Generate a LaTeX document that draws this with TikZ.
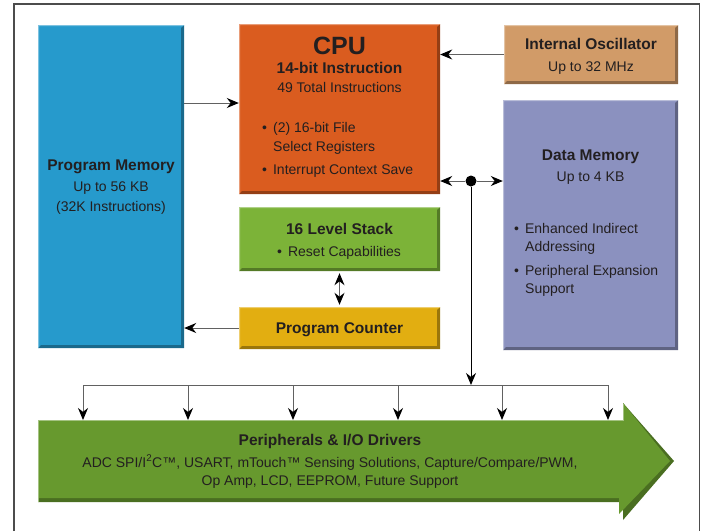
\documentclass[tikz,border=0pt]{standalone}
\usepackage{fontspec}
\setmainfont{Liberation Sans}
\usetikzlibrary{arrows.meta}

\definecolor{progblue}{RGB}{38,154,204}
\definecolor{cpuorange}{RGB}{218,92,31}
\definecolor{osctan}{RGB}{209,155,104}
\definecolor{datalav}{RGB}{139,145,191}
\definecolor{stackgreen}{RGB}{124,179,56}
\definecolor{pcgold}{RGB}{226,174,17}
\definecolor{perigreen}{RGB}{103,153,46}
\definecolor{inkgray}{RGB}{35,31,32}

\begin{document}
\begin{tikzpicture}[
    x=1pt, y=-1pt,
    box node/.style={rectangle, inner sep=0pt, fill=#1, path picture={
        \fill[#1!68!black] (path picture bounding box.south west) -- (path picture bounding box.south east)
            -- (path picture bounding box.north east) -- ([xshift=-3pt,yshift=-3pt]path picture bounding box.north east)
            -- ([xshift=-3pt,yshift=3pt]path picture bounding box.south east) -- ([xshift=3pt,yshift=3pt]path picture bounding box.south west) -- cycle;
        \fill[#1!60!white] (path picture bounding box.south west) -- (path picture bounding box.north west)
            -- (path picture bounding box.north east) -- ([xshift=-1.2pt,yshift=-1.2pt]path picture bounding box.north east)
            -- ([xshift=1.2pt,yshift=-1.2pt]path picture bounding box.north west) -- ([xshift=1.2pt,yshift=1.2pt]path picture bounding box.south west) -- cycle;
    }},
    title text/.style={font=\bfseries\fontsize{15.5}{18}\selectfont, text=inkgray, inner sep=0pt, anchor=base},
    body text/.style={font=\fontsize{14}{17}\selectfont, text=inkgray, inner sep=0pt, anchor=base},
    item text/.style={body text, anchor=base west},
    link edge/.style={draw=black!62, line width=1pt, -{Stealth[length=12pt,width=10pt,black]}},
    both edge/.style={link edge, {Stealth[length=12pt,width=10pt,black]}-{Stealth[length=12pt,width=10pt,black]}}
]
\useasboundingbox (0,0) rectangle (703,531);

% outer frame
\draw[black!70, line width=1.5pt] (14,531) -- (14,4) -- (699.5,4) -- (699.5,531);

% blocks
\node[box node=progblue,   minimum width=146pt, minimum height=323pt] (progmem)  at (111,186.5) {};
\node[box node=cpuorange,  minimum width=201pt, minimum height=170pt] (cpu)      at (339.5,109) {};
\node[box node=osctan,     minimum width=174pt, minimum height=59pt]  (osc)      at (591,54.5) {};
\node[box node=datalav,    minimum width=175pt, minimum height=250pt] (datamem)  at (590.5,225) {};
\node[box node=stackgreen, minimum width=201pt, minimum height=64pt]  (stack)    at (339.5,239) {};
\node[box node=pcgold,     minimum width=201pt, minimum height=42pt]  (pc)       at (339.5,328) {};

% peripherals arrow
\fill[perigreen!72!black] (38,420) -- (623,420) -- (623,403) -- (674,461) -- (623,520) -- (623,502) -- (38,502) -- cycle;
\fill[perigreen] (38,420) -- (623,420) -- (623,403) -- (670,461) -- (619,514) -- (619,498) -- (38,498) -- cycle;
\draw[perigreen!60!white, line width=0.8pt] (38,502) -- (38,420.4) -- (623.4,420.4) -- (623.4,404);

% texts
\node[title text] (pmT)  at (111,170.5) {Program Memory};
\node[body text]  (pmA)  at (111,191) {Up to 56 KB};
\node[body text]  (pmB)  at (111,211) {(32K Instructions)};

\node[title text, font=\bfseries\fontsize{25}{28}\selectfont] (cpuT) at (339.5,54) {CPU};
\node[title text] (cpuA) at (339.5,73.5) {14-bit Instruction};
\node[body text]  (cpuB) at (339.5,92) {49 Total Instructions};
\node[item text]  (cpuC) at (262,132) {•\hspace{6pt}(2) 16-bit File};
\node[item text]  (cpuD) at (273,151) {Select Registers};
\node[item text]  (cpuE) at (262,174) {•\hspace{6pt}Interrupt Context Save};

\node[title text] (oscT) at (591,49.5) {Internal Oscillator};
\node[body text]  (oscA) at (591,71) {Up to 32 MHz};

\node[title text] (dmT)  at (590.5,160.5) {Data Memory};
\node[body text]  (dmA)  at (590.5,181) {Up to 4 KB};
\node[item text]  (dmB)  at (514,233) {•\hspace{6pt}Enhanced Indirect};
\node[item text]  (dmC)  at (525,251) {Addressing};
\node[item text]  (dmD)  at (514,275) {•\hspace{6pt}Peripheral Expansion};
\node[item text]  (dmE)  at (525,293) {Support};

\node[title text] (stT)  at (339.5,234) {16 Level Stack};
\node[item text]  (stA)  at (277,256) {•\hspace{6pt}Reset Capabilities};

\node[title text] (pcT)  at (339.5,333.5) {Program Counter};

\node[title text] (perT) at (330,445.5) {Peripherals \& I/O Drivers};
\node[body text]  (perA) at (330,467) {ADC SPI/I\textsuperscript{2}C™, USART, mTouch™ Sensing Solutions, Capture/Compare/PWM,};
\node[body text]  (perB) at (330,485) {Op Amp, LCD, EEPROM, Future Support};

% connectors
\coordinate (pmOut) at (184,103);
\draw[link edge] (pmOut) -- (pmOut -| cpu.west);
\draw[link edge] (osc.west) -- (osc.west -| cpu.east);
\draw[link edge] (pc.west) -- (pc.west -| progmem.east);
\draw[both edge, shorten <=2pt, shorten >=2pt] (stack.south) -- (pc.north);

\node[circle, fill=black, inner sep=0pt, minimum size=11pt] (junction) at (471,181) {};
\draw[link edge] (junction) -- (junction -| cpu.east);
\draw[link edge] (junction) -- (junction -| datamem.west);

% bus to peripherals
\coordinate (busL) at (83,385);
\coordinate (busR) at (608,385);
\draw[draw=black!62, line width=1pt] (busL) -- (busR);
\draw[link edge, draw=black] (junction) -- (junction |- busL);
\foreach \i/\x in {1/83, 2/188, 3/293, 4/398, 5/502, 6/608} {
    \coordinate (tap\i) at (\x,385);
    \coordinate (in\i) at (\x,420);
    \draw[link edge] (tap\i) -- (in\i);
}

\end{tikzpicture}
\end{document}
